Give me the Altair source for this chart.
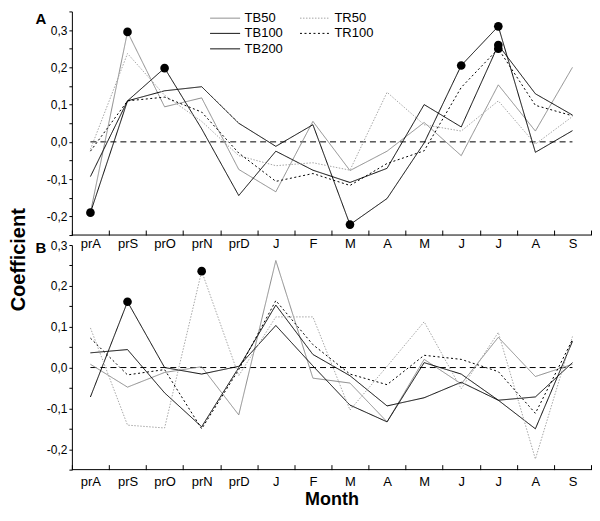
import json
import altair as alt
import pandas as pd

# ---------------- data ----------------
months = ["prA", "prS", "prO", "prN", "prD", "J", "F", "M", "A", "M", "J", "J", "A", "S"]
series = ["TB50", "TB100", "TB200", "TR50", "TR100"]

a_tb50 = [-0.190, 0.295, 0.094, 0.118, -0.074, -0.134, 0.055, -0.077, -0.025, 0.052, -0.037, 0.153, 0.029, 0.200]
a_tb100 = [-0.190, 0.110, 0.198, 0.035, -0.144, -0.025, -0.076, -0.109, -0.071, 0.100, 0.040, 0.260, 0.129, 0.072]
a_tb200 = [-0.093, 0.110, 0.137, 0.148, 0.050, -0.012, 0.046, -0.222, -0.152, -0.003, 0.205, 0.310, -0.028, 0.030]
a_tr50 = [-0.020, 0.237, 0.125, 0.055, -0.037, -0.064, -0.056, -0.076, 0.133, 0.046, 0.029, 0.110, -0.006, 0.068]
a_tr100 = [-0.025, 0.110, 0.120, 0.080, -0.030, -0.106, -0.085, -0.117, -0.058, -0.024, 0.146, 0.250, 0.098, 0.070]

b_tb50 = [0.008, -0.048, -0.012, 0.002, -0.116, 0.262, -0.026, -0.038, -0.133, 0.020, -0.040, 0.074, -0.022, 0.008]
b_tb100 = [0.036, 0.044, -0.062, -0.145, 0.000, 0.153, 0.032, -0.020, -0.094, -0.074, -0.036, -0.080, -0.072, 0.012]
b_tb200 = [-0.072, 0.161, 0.000, -0.016, 0.003, 0.103, 0.004, -0.092, -0.133, 0.012, -0.016, -0.080, -0.150, 0.064]
b_tr50 = [0.097, -0.141, -0.148, 0.236, -0.020, 0.124, 0.124, -0.104, 0.003, 0.112, -0.052, 0.086, -0.224, 0.076]
b_tr100 = [0.072, -0.018, -0.005, -0.150, -0.005, 0.164, 0.056, -0.016, -0.042, 0.030, 0.020, -0.010, -0.112, 0.068]

# significant (marked) values: (series, month index)
a_sig = [("TB50", 0), ("TB50", 1), ("TB100", 2), ("TB200", 7), ("TB200", 10),
         ("TB200", 11), ("TB100", 11), ("TR100", 11)]
b_sig = [("TB200", 1), ("TR50", 3)]

panels = {
    "A": dict(zip(series, [a_tb50, a_tb100, a_tb200, a_tr50, a_tr100])),
    "B": dict(zip(series, [b_tb50, b_tb100, b_tb200, b_tr50, b_tr100])),
}
sigs = {"A": a_sig, "B": b_sig}

# ---------------- styles ----------------
legend_order = ["TB50", "TB100", "TB200", "TR50", "TR100"]
colors = {"TB50": "#8a8a8a", "TB100": "#000000", "TB200": "#000000", "TR50": "#a6a6a6", "TR100": "#000000"}
dashes = {"TB50": [1, 0], "TB100": [1, 0], "TB200": [1, 0], "TR50": [1.5, 1.5], "TR100": [2, 2.5]}
widths = {"TB50": 1.0, "TB100": 1.0, "TB200": 1.7, "TR50": 1.2, "TR100": 1.2}

FONT = "Liberation Sans"
W = 520
label_expr_x = json.dumps(months) + "[datum.value]"
label_expr_y = ("abs(datum.value*10 - round(datum.value*10)) < 0.001 ? "
                "(datum.value < -0.0001 ? '-' : '') + replace(format(abs(datum.value), '.1f'), '.', ',') : ''")


def make_panel(key, ydom, height, label_pad, xtitle, show_legend, letter_y):
    rows = []
    for s in series:
        for i, v in enumerate(panels[key][s]):
            rows.append({"series": s, "idx": i, "value": v})
    df = pd.DataFrame(rows)
    sig_df = pd.DataFrame([{"series": s, "idx": i, "value": panels[key][s][i]} for s, i in sigs[key]])
    zero_df = pd.DataFrame({"idx": [0, len(months) - 1], "value": [0.0, 0.0]})
    floor_df = pd.DataFrame({"value": [ydom[0]]})

    yticks = []
    v = ydom[0]
    while v <= ydom[1] + 1e-9:
        yticks.append(round(v, 2))
        v += 0.05

    x = alt.X("idx:O", bandPosition=0.5,
              scale=alt.Scale(type="band", domain=list(range(len(months))), paddingInner=0, paddingOuter=0),
              axis=alt.Axis(labelExpr=label_expr_x, tickBand="extent", offset=-5, tickSize=5,
                            domain=False, labelPadding=label_pad, labelFontSize=13, labelAngle=0,
                            labelColor="black", tickColor="black", title=xtitle,
                            titleFontSize=18, titleFontWeight="bold", titleColor="black",
                            titlePadding=2))
    y = alt.Y("value:Q", scale=alt.Scale(domain=ydom, nice=False, zero=False),
              axis=alt.Axis(values=yticks, labelExpr=label_expr_y, tickSize=3, labelPadding=2,
                            labelFontSize=12, labelColor="black", tickColor="black",
                            domainColor="black", grid=False, title=None))

    leg = alt.Legend(orient="none", legendX=147, legendY=0, columns=2, title=None,
                     symbolType="M-3,0L3,0", symbolSize=100, labelFontSize=13, labelColor="black",
                     labelFont=FONT, rowPadding=1.5, columnPadding=14, padding=0,
                     labelOffset=13) if show_legend else None

    color = alt.Color("series:N", scale=alt.Scale(domain=legend_order, range=[colors[s] for s in legend_order]), legend=leg)
    dash = alt.StrokeDash("series:N", scale=alt.Scale(domain=legend_order, range=[dashes[s] for s in legend_order]), legend=leg)
    sw = alt.StrokeWidth("series:N", scale=alt.Scale(domain=legend_order, range=[widths[s] for s in legend_order]), legend=leg)

    base_rule = alt.Chart(floor_df).mark_rule(color="black", strokeWidth=1).encode(y=y)
    zero = alt.Chart(zero_df).mark_line(color="black", strokeWidth=1, strokeDash=[6, 4]).encode(x=x, y=y)
    lines = alt.Chart(df).mark_line().encode(x=x, y=y, color=color, strokeDash=dash, strokeWidth=sw,
                                             order=alt.Order("idx:O"))
    dots = alt.Chart(sig_df).mark_circle(size=75, color="black", opacity=1).encode(x=x, y=y)
    letter = alt.Chart(pd.DataFrame({"t": [key]})).mark_text(
        fontSize=15, fontWeight="bold", font=FONT, color="black", align="center", baseline="middle"
    ).encode(text="t:N", x=alt.value(-31), y=alt.value(letter_y))

    return alt.layer(base_rule, zero, lines, dots, letter).resolve_scale(
        color="independent", strokeDash="independent", strokeWidth="independent"
    ).properties(width=W, height=height)


pa = make_panel("A", [-0.25, 0.35], 224, 2, None, True, 8)
pb = make_panel("B", [-0.25, 0.30], 225, 6, "Month", False, 3)

chart = alt.vconcat(pa, pb, spacing=10, bounds="flush").resolve_scale(
    color="independent", strokeDash="independent", strokeWidth="independent"
).properties(
    title=alt.TitleParams("Coefficient", orient="left", anchor="middle", fontSize=20,
                          fontWeight="bold", font=FONT, color="black", offset=7),
    padding={"left": 0, "top": 2, "right": 0, "bottom": 0},
).configure(font=FONT).configure_view(stroke=None).configure_axis(labelFont=FONT, titleFont=FONT)

chart.save("out.html", embed_options={"renderer": "svg", "actions": False})
